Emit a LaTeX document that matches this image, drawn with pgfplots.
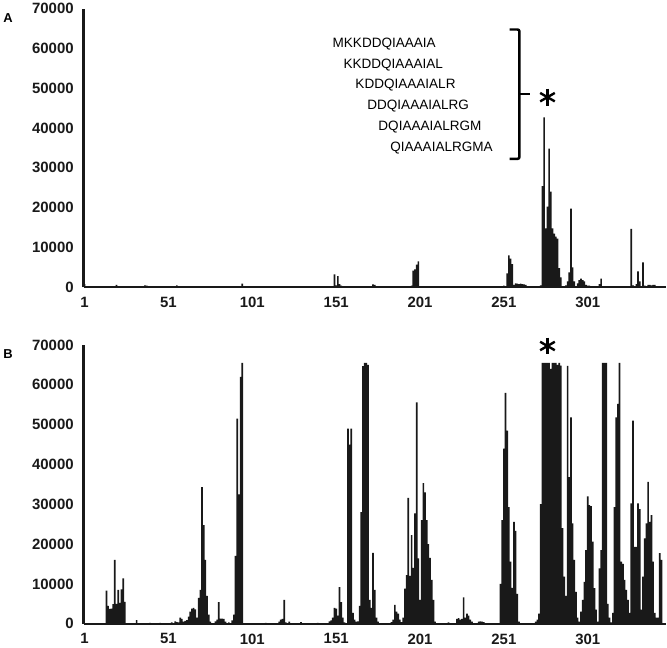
\documentclass[border=0pt]{standalone}
\usepackage{pgfplots}
\pgfplotsset{compat=1.18}
\usepackage{fontspec}
\setmainfont{Liberation Sans}

% position, intensity (positions not listed are 0)
\pgfplotstableread{
x y
1 800
2 200
8 150
20 600
21 200
30 150
37 500
38 400
39 200
45 150
56 500
57 200
64 300
70 300
80 150
95 900
96 300
109 300
121 300
135 200
150 3250
151 500
152 2800
153 800
154 400
160 300
163 200
165 300
170 300
173 700
174 600
175 300
196 400
197 4200
198 4500
199 5700
200 6500
201 300
237 300
250 300
251 400
253 3500
254 8000
255 7200
256 5800
257 600
258 1000
259 900
260 800
261 900
262 800
263 700
264 600
271 300
273 500
274 25400
275 42700
276 14800
277 20250
278 34800
279 24000
280 14800
281 13500
282 12750
283 12200
284 4800
285 2500
286 300
288 500
289 1500
290 3750
291 19750
292 5000
293 1500
295 1000
296 1800
297 2200
298 1800
299 1500
300 600
301 400
302 400
303 300
308 800
309 2200
327 14700
328 500
330 800
331 4000
332 1500
334 6250
335 400
337 600
338 600
339 500
340 600
341 600
342 300
}\dataA

\pgfplotstableread{
x y
14 8300
15 4500
16 3700
17 3800
18 4900
19 16000
20 5000
21 8500
22 5200
23 8600
24 11400
25 5500
32 900
40 200
46 200
53 300
55 600
56 400
57 300
58 1500
59 1200
60 500
61 700
62 900
63 1800
64 3000
65 3800
66 4000
67 3600
68 1500
69 6500
70 8500
71 34300
72 24750
73 16000
74 7000
75 2300
76 500
79 600
80 1000
81 5400
82 1300
83 1300
84 1200
85 500
87 300
89 800
90 2300
91 17000
92 51500
93 32500
94 62000
95 65535
109 200
117 500
118 1000
119 1200
120 6000
121 300
123 500
130 400
140 200
147 600
148 800
149 1500
150 4000
151 3800
152 2000
153 9200
154 5400
155 1500
156 300
158 49000
159 45000
160 49000
161 2700
162 1000
163 500
164 600
165 4500
166 28000
167 64700
168 65535
169 65535
170 65000
171 6000
172 4000
173 17800
174 8500
175 1500
176 500
184 400
185 1000
186 4750
187 3000
188 2500
189 1000
190 400
191 1500
192 8800
193 12200
194 31600
195 12000
196 22250
197 14000
198 27700
199 55600
200 16400
201 6000
202 26000
203 35300
204 33000
205 26000
206 20000
207 16500
208 11000
209 6000
210 500
218 300
223 1200
224 1400
225 1000
226 1200
227 6600
228 1500
229 2500
230 2000
231 1000
232 500
236 500
237 600
238 500
239 400
249 10000
250 26000
251 44000
252 58000
253 48500
254 29300
255 15600
256 9000
257 25600
258 23300
259 7500
260 500
270 500
271 1000
272 2500
273 30000
274 65535
275 65535
276 65535
277 65535
278 65535
279 64000
280 65535
281 65535
282 65535
283 65000
284 65535
285 64800
286 24000
287 11800
288 7000
289 64750
290 36800
291 51800
292 25200
293 16000
294 8000
295 1500
296 500
297 3000
298 6000
299 10500
300 18500
301 32000
302 29750
303 29500
304 20600
305 8900
306 3500
307 500
308 13900
309 18500
310 65535
311 65535
312 65535
313 5000
314 1500
315 300
316 2700
317 29300
318 51800
319 55200
320 65535
321 15600
322 15000
323 11000
324 8500
325 6000
326 2700
327 30200
328 51000
329 19300
330 19300
331 30200
332 28750
333 3500
334 11800
335 21400
336 25200
337 35600
338 25600
339 27250
340 15600
341 2700
342 1500
343 1500
344 17700
345 16000
}\dataB

\pgfplotsset{panel/.style={
    scale only axis,
    width=585pt, height=280pt,
    xmin=0.4, xmax=347.6,
    ymin=0, ymax=70000,
    axis x line*=bottom, axis y line*=left,
    axis line style={line width=2.3pt, black!90},
    xtick={1,51,101,151,201,251,301},
    ytick={0,10000,...,70000},
    major tick length=0pt,
    ticklabel style={font=\bfseries\fontsize{15}{17}\selectfont, text=black!90},
    /pgf/number format/assume math mode=true,
    /pgf/number format/1000 sep={},
    scaled y ticks=false,
    xticklabel style={yshift=-6.5pt},
    yticklabel style={xshift=-6.5pt},
    clip=false,
}}

\begin{document}
\begin{tikzpicture}
\begin{axis}[panel, at={(82pt,362pt)}, anchor=south west]
  \addplot[ybar, bar width=1, bar shift=0pt, fill=black!90, draw=none] table {\dataA};
  % peptide list
  \begin{scope}[every node/.style={anchor=west, inner sep=0pt, font=\fontsize{13.6}{14}\selectfont}]
    \node at (axis cs:148.8,61000) {MKKDDQIAAAIA};
    \node at (axis cs:155.3,55750) {KKDDQIAAAIAL};
    \node at (axis cs:162.4,50750) {KDDQIAAAIALR};
    \node at (axis cs:169.5,45500) {DDQIAAAIALRG};
    \node at (axis cs:176.1,40250) {DQIAAAIALRGM};
    \node at (axis cs:183.2,35000) {QIAAAIALRGMA};
  \end{scope}
  \draw[line width=2.5pt, rounded corners=2pt] (axis cs:254.4,64750) -- (axis cs:260.3,64750)
       -- (axis cs:260.3,32250) -- (axis cs:254.4,32250);
  \draw[line width=2.5pt] (axis cs:260.3,48500) -- (axis cs:266.3,48500);
  % asterisk
  \draw[line width=2.4pt] (axis cs:277,47750) ++(90:8.5pt) -- ++(270:17pt);
  \draw[line width=2.4pt] (axis cs:277,47750) ++(30:8.5pt) -- ++(210:17pt);
  \draw[line width=2.4pt] (axis cs:277,47750) ++(150:8.5pt) -- ++(330:17pt);
\end{axis}

\begin{axis}[panel, at={(82pt,24pt)}, anchor=south west]
  \addplot[ybar, bar width=1, bar shift=0pt, fill=black!90, draw=none] table {\dataB};
  \draw[line width=2.4pt] (axis cs:277,69750) ++(90:8.5pt) -- ++(270:17pt);
  \draw[line width=2.4pt] (axis cs:277,69750) ++(30:8.5pt) -- ++(210:17pt);
  \draw[line width=2.4pt] (axis cs:277,69750) ++(150:8.5pt) -- ++(330:17pt);
\end{axis}

\node[font=\bfseries\fontsize{13}{13}\selectfont] at (6pt,633pt) {A};
\node[font=\bfseries\fontsize{13}{13}\selectfont] at (6pt,295pt) {B};
\end{tikzpicture}
\end{document}
